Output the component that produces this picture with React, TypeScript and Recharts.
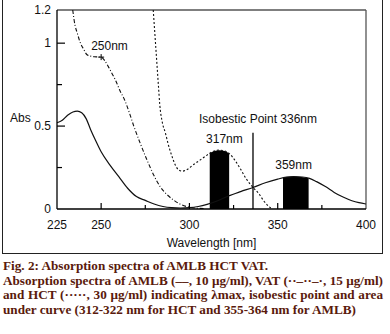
import React from "react";
import {
  ComposedChart,
  Line,
  Area,
  XAxis,
  YAxis,
  ReferenceLine,
  ReferenceDot,
  Label,
} from "recharts";

// AMLB (solid), 10 µg/ml
const amlbNm = [225, 228, 231, 234, 236.5, 239, 241.5, 244, 247, 250, 255, 260, 265, 270, 275, 280, 285, 290, 295, 300, 305, 310, 316, 322, 329, 336, 343, 350, 355, 359, 364, 368, 372, 377, 382, 387, 392, 396, 400];
const amlbAbs = [0.52, 0.535, 0.565, 0.585, 0.59, 0.58, 0.545, 0.48, 0.41, 0.345, 0.265, 0.195, 0.125, 0.075, 0.052, 0.03, 0.015, 0.008, 0.006, 0.008, 0.015, 0.028, 0.05, 0.078, 0.105, 0.13, 0.158, 0.18, 0.192, 0.195, 0.193, 0.185, 0.165, 0.135, 0.1, 0.072, 0.05, 0.038, 0.03];

// VAT (dash-dot), 15 µg/ml
const vatNm = [233.9, 235.2, 236.5, 238, 240, 242, 244, 246, 248, 250, 252, 254, 256, 258, 260.8, 263, 266, 268.5, 272, 276, 280, 283.5, 287, 291, 295, 298.7, 303, 308];
const vatAbs = [1.2, 1.108, 1.06, 1.008, 0.965, 0.93, 0.922, 0.918, 0.917, 0.916, 0.895, 0.86, 0.82, 0.78, 0.71, 0.665, 0.58, 0.5, 0.4, 0.295, 0.2, 0.134, 0.09, 0.054, 0.028, 0.014, 0.006, 0.003];

// HCT (dotted), 30 µg/ml
const hctNm = [279.5, 280.5, 281.5, 282.5, 283.2, 284.5, 286.4, 288, 290.2, 292, 294, 296, 299, 302, 306, 310, 314, 317, 320, 323, 326, 329, 332, 336, 339.5, 342, 345, 347];
const hctAbs = [1.2, 1.045, 0.89, 0.735, 0.63, 0.53, 0.458, 0.39, 0.315, 0.265, 0.235, 0.228, 0.24, 0.265, 0.295, 0.325, 0.35, 0.355, 0.35, 0.33, 0.29, 0.24, 0.185, 0.13, 0.09, 0.05, 0.015, 0];

// area under curve blocks
const hctAucNm = [311.5, 314, 317, 320, 322.5];
const hctAucAbs = [0.338, 0.35, 0.355, 0.35, 0.335];
const amlbAucNm = [353, 356, 359, 362, 365, 367.5];
const amlbAucAbs = [0.19, 0.194, 0.196, 0.195, 0.19, 0.186];

const isoNm = 336;
const isoTop = 0.46;

const xTicks = [225, 250, 275, 300, 325, 350, 375, 400];
const xLabels = [225, 250, 300, 350, 400];
const yTicks = [0, 0.25, 0.5, 0.75, 1, 1.2];
const yLabels = [0, 0.5, 1, 1.2];

const rows = (nm: number[], abs: number[]) => nm.map((n, i) => ({ nm: n, abs: abs[i] }));

const font = "'Liberation Sans', Arial, sans-serif";

function XTick({ x, y, payload }: any) {
  const v = payload.value;
  const len = v === 225 || v === 400 ? 0 : v % 50 === 0 ? 6 : 4;
  return (
    <g>
      {len > 0 && <line x1={x} x2={x} y1={y} y2={y - len} stroke="#000" strokeWidth={1.2} />}
      {xLabels.includes(v) && (
        <text x={x} y={y + 20} textAnchor="middle" fontSize={12} fill="#111" fontFamily={font}>
          {v}
        </text>
      )}
    </g>
  );
}

function YTick({ x, y, payload }: any) {
  const v = payload.value;
  const len = v === 0 || v === 1.2 ? 0 : v === 0.5 || v === 1 ? 8 : 5;
  return (
    <g>
      {len > 0 && <line x1={x} x2={x + len} y1={y} y2={y} stroke="#000" strokeWidth={1.2} />}
      {yLabels.includes(v) && (
        <text x={x - 6} y={y + 4} textAnchor="end" fontSize={12} fill="#111" fontFamily={font}>
          {v}
        </text>
      )}
    </g>
  );
}

const note = (txt: string, dx: number, dy: number, anchor: "start" | "middle" = "middle", cross = false) =>
  (p: any) => (
    <g>
      {cross && (
        <path d={`M${p.cx - 3},${p.cy}H${p.cx + 3}M${p.cx},${p.cy - 3}V${p.cy + 3}`} stroke="#000" strokeWidth={1} />
      )}
      <text x={p.cx + dx} y={p.cy + dy} textAnchor={anchor} fontSize={12} fill="#111" fontFamily={font}>
        {txt}
      </text>
    </g>
  );

const capLine: React.CSSProperties = { whiteSpace: "nowrap" };
const capJustify: React.CSSProperties = { whiteSpace: "nowrap", textAlign: "justify", textAlignLast: "justify" };

export default function App() {
  return (
    <div style={{ position: "absolute", left: 0, top: 0, width: 390, height: 334, background: "#fff" }}>
      <div
        style={{
          position: "absolute",
          left: 2,
          top: -1,
          width: 381,
          height: 255,
          border: "1.5px solid #222",
          boxSizing: "border-box",
        }}
      />
      <div style={{ position: "absolute", left: 0, top: 0 }}>
        <ComposedChart width={390} height={253} margin={{ top: 10, right: 24, bottom: 6, left: 0 }}>
          <XAxis
            dataKey="nm"
            type="number"
            domain={[225, 400]}
            allowDataOverflow
            ticks={xTicks}
            interval={0}
            tickSize={0}
            tickMargin={0}
            tickLine={false}
            tick={<XTick />}
            height={38}
            axisLine={{ stroke: "#000", strokeWidth: 1.3 }}
          >
            <Label value="Wavelength [nm]" position="insideBottom" offset={0} fontSize={12} fill="#111" fontFamily={font} />
          </XAxis>
          <YAxis
            type="number"
            domain={[0, 1.2]}
            allowDataOverflow
            ticks={yTicks}
            interval={0}
            tickSize={0}
            tickMargin={0}
            tickLine={false}
            tick={<YTick />}
            width={57}
            axisLine={{ stroke: "#000", strokeWidth: 1.3 }}
          >
            <Label
              content={({ viewBox }: any) => (
                <text x={viewBox.x + 10} y={viewBox.y + 112} fontSize={12} fill="#111" fontFamily={font}>
                  Abs
                </text>
              )}
            />
          </YAxis>

          {/* frame on the top and right side of the plot */}
          <ReferenceLine y={1.2} stroke="#555" strokeWidth={1.3} />
          <ReferenceLine x={400} stroke="#555" strokeWidth={1.3} />

          <Area data={rows(hctAucNm, hctAucAbs)} dataKey="abs" type="monotone" stroke="none" fill="#000" fillOpacity={1} isAnimationActive={false} />
          <Area data={rows(amlbAucNm, amlbAucAbs)} dataKey="abs" type="monotone" stroke="none" fill="#000" fillOpacity={1} isAnimationActive={false} />

          <Line data={rows(amlbNm, amlbAbs)} dataKey="abs" type="monotone" stroke="#111" strokeWidth={1.2} dot={false} isAnimationActive={false} />
          <Line data={rows(vatNm, vatAbs)} dataKey="abs" type="monotone" stroke="#111" strokeWidth={1.1} strokeDasharray="4 2 1 2" dot={false} isAnimationActive={false} />
          <Line data={rows(hctNm, hctAbs)} dataKey="abs" type="monotone" stroke="#111" strokeWidth={1.1} strokeDasharray="2 2" dot={false} isAnimationActive={false} />

          <ReferenceLine segment={[{ x: isoNm, y: 0 }, { x: isoNm, y: isoTop }]} stroke="#000" strokeWidth={1.3} />
          <ReferenceDot x={isoNm} y={isoTop} shape={note("Isobestic Point 336nm", 5, -10)} />
          <ReferenceDot x={250} y={0.916} shape={note("250nm", -10, -7, "start", true)} />
          <ReferenceDot x={317} y={0.355} shape={note("317nm", 5, -7)} />
          <ReferenceDot x={359} y={0.196} shape={note("359nm", 0, -7)} />
        </ComposedChart>
      </div>
      <div
        style={{
          position: "absolute",
          left: 3,
          top: 259,
          width: 380,
          fontFamily: "'Liberation Serif', 'DejaVu Serif', serif",
          fontWeight: "bold",
          fontSize: 13.2,
          lineHeight: "14.5px",
          color: "#5a1a0c",
        }}
      >
        <div style={capLine}>Fig. 2: Absorption spectra of AMLB HCT VAT.</div>
        <div style={capJustify}>Absorption spectra of AMLB (––, 10 μg/ml), VAT (··–··–·, 15 μg/ml)</div>
        <div style={capJustify}>and HCT (·····, 30 μg/ml) indicating λmax, isobestic point and area</div>
        <div style={capLine}>under curve (312-322 nm for HCT and 355-364 nm for AMLB)</div>
      </div>
    </div>
  );
}
